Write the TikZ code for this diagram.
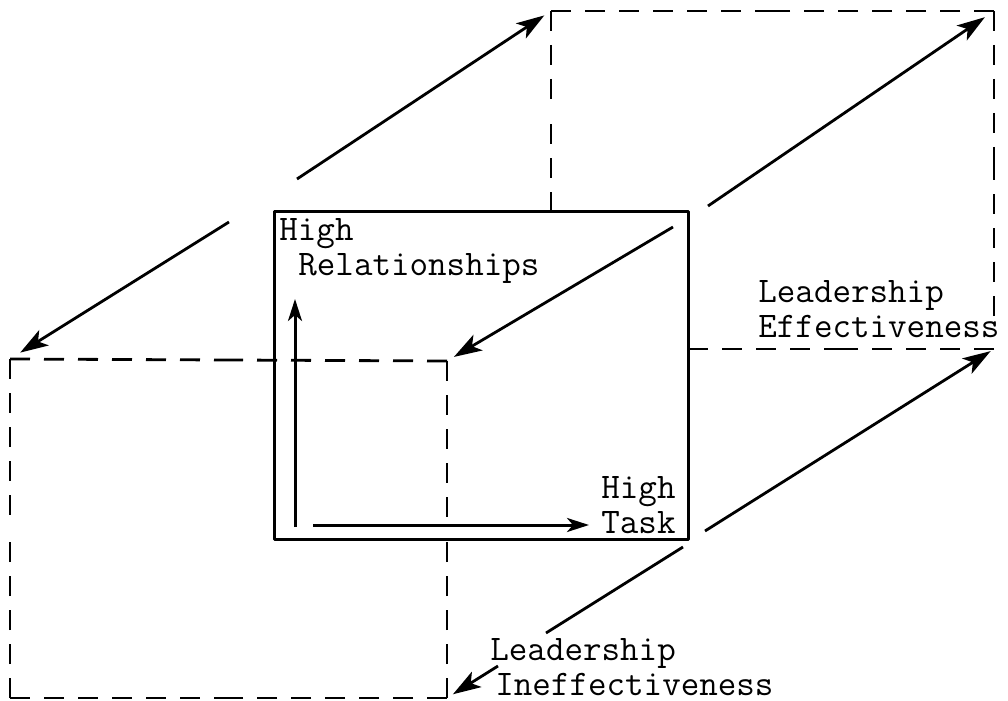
\documentclass[tikz,border=0pt]{standalone}
\usepackage{fontspec}
\usetikzlibrary{arrows.meta,calc}

\begin{document}
\begin{tikzpicture}[x=0.5pt,y=-0.5pt,
  boxline/.style={line width=1.5pt,line join=round},
  hidden/.style={line width=1.4pt,dash pattern=on 10pt off 7pt},
  axis/.style={line width=1.5pt,-{Stealth[length=11pt,width=7pt,inset=3pt]}},
  move/.style={line width=1.4pt,-{Stealth[length=14pt,width=9pt,inset=3.5pt]}},
  lbl/.style={font=\ttfamily\fontsize{18}{17.5}\selectfont,align=left,inner sep=0pt,anchor=base west}]
\useasboundingbox (0,0) rectangle (1008,701);
% corners of the three planes
\coordinate (ctl) at (274,212);
\coordinate (ctr) at (688,212);
\coordinate (cbr) at (688,539);
\coordinate (ftl) at (10,359);
\coordinate (ftr) at (447,361);
\coordinate (fbr) at (447,698);
\coordinate (fbl) at (10,698);
\coordinate (btl) at (551,11);
\coordinate (btr) at (994,11);
\coordinate (bbr) at (994,349);
\coordinate (bre) at (994,316);
\coordinate (bls) at (btl|-ctl);
\coordinate (bbs) at (ctr|-bbr);
% dashed planes, every edge dashed out from both ends
\foreach \a/\b in {ftl/ftr,ftr/fbr,fbr/fbl,fbl/ftl,btl/btr,btr/bre,btl/bls,bbr/bbs}
  \draw[hidden] (\a) -- ($(\a)!0.5!(\b)$) (\b) -- ($(\b)!0.5!(\a)$);
% central plane
\draw[boxline] (ctl) rectangle (cbr);
% axes
\coordinate (o1) at (295,527);
\coordinate (yend) at (295,299);
\coordinate (o2) at (313,525);
\coordinate (xend) at (589,525);
\draw[axis] (o1) -- (yend);
\draw[axis] (o2) -- (xend);
% depth arrows
\coordinate (m1) at (297,179);
\coordinate (m2) at (229,222);
\coordinate (m3) at (708,206);
\coordinate (m4) at (673,227);
\coordinate (m5) at (705,531);
\coordinate (m6) at (683,547);
\coordinate (m7) at (546,633);
\coordinate (m8) at (498,666);
\draw[move,shorten >=4pt] (m1) -- (btl);
\draw[move,shorten >=6pt] (m2) -- (ftl);
\draw[move,shorten >=5.5pt] (m3) -- (btr);
\draw[move,shorten >=4pt] (m4) -- (ftr);
\draw[move,shorten >=2pt] (m5) -- (bbr);
\draw[line width=1.4pt] (m6) -- (m7);
\draw[move,shorten >=3.5pt] (m8) -- (fbr);
% labels (anchored at the baseline of the last line)
\node[lbl] (rel) at (279,276) {High\\\hspace*{9.5pt}Relationships};
\node[lbl] (task) at (601,533) {High\\Task};
\node[lbl] (eff) at (758,337) {Leadership\\Effectiveness};
\node[lbl] (ineff) at (490,695) {Leadership\\\hspace*{2.5pt}Ineffectiveness};
\end{tikzpicture}
\end{document}
